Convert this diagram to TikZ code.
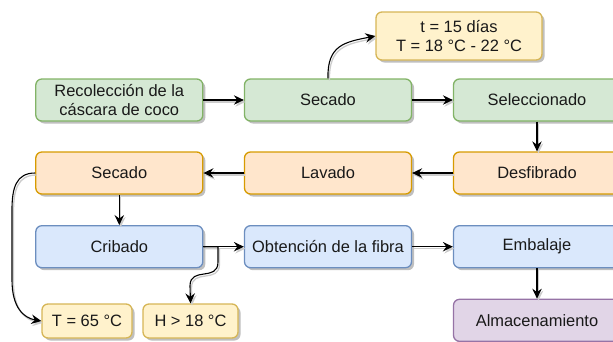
\documentclass[tikz,border=0pt]{standalone}
\usepackage{fontspec}
\setmainfont{Liberation Sans}
\usetikzlibrary{arrows.meta,shadows}
\definecolor{gfill}{HTML}{D5E8D4}\definecolor{gline}{HTML}{82B366}
\definecolor{ofill}{HTML}{FFE6CC}\definecolor{oline}{HTML}{D79B00}
\definecolor{bfill}{HTML}{DAE8FC}\definecolor{bline}{HTML}{6C8EBF}
\definecolor{yfill}{HTML}{FFF2CC}\definecolor{yline}{HTML}{D6B656}
\definecolor{pfill}{HTML}{E1D5E7}\definecolor{pline}{HTML}{9673A6}
\tikzset{
  box/.style={rectangle, rounded corners=6bp, line width=1.3bp, minimum width=167bp, minimum height=42bp, inner sep=0pt, align=center,
    font=\fontsize{16.5}{20}\selectfont, text=black!90,
    drop shadow={shadow xshift=2.5bp, shadow yshift=-2.5bp, opacity=0.25, fill=black}},
  gbox/.style={box, fill=gfill, draw=gline},
  obox/.style={box, fill=ofill, draw=oline},
  bbox/.style={box, fill=bfill, draw=bline},
  ybox/.style={box, fill=yfill, draw=yline},
  pbox/.style={box, fill=pfill, draw=pline},
  edge/.style={line width=1.1bp, -{Stealth[length=10bp,width=9.5bp,inset=3.5bp]},
    preaction={draw=black!20, line width=1.3bp, transform canvas={xshift=1.5bp,yshift=-2bp}}},
}
\begin{document}
\begin{tikzpicture}[x=1bp,y=-1bp]
\useasboundingbox (0,0) rectangle (613,341);
\node[gbox] (rec) at (119.3,100) {Recolección de la\\cáscara de coco};
\node[gbox] (sec1) at (328,100) {Secado};
\node[gbox] (sel) at (537,100) {Seleccionado};
\node[ybox, minimum width=166bp, minimum height=48bp] (top) at (459,36) {t = 15 días\\T = 18 °C - 22 °C};
\node[obox] (des) at (537,173) {Desfibrado};
\node[obox] (lav) at (328,173) {Lavado};
\node[obox] (sec2) at (119.3,173) {Secado};
\node[bbox] (cri) at (119.3,246.7) {Cribado};
\node[bbox] (obt) at (328,246.7) {Obtención de la fibra};
\node[bbox] (emb) at (537,246.7) {Embalaje};
\node[pbox] (alm) at (537,320.3) {Almacenamiento};
\node[ybox, minimum width=90bp, minimum height=34bp] (t65) at (87,321) {T = 65 °C};
\node[ybox, minimum width=95bp, minimum height=34bp] (h18) at (190.5,321) {H > 18 °C};

\draw[edge] (rec) -- (sec1);
\draw[edge] (sec1) -- (sel);
\draw[edge] (sel) -- (des);
\draw[edge] (des) -- (lav);
\draw[edge] (lav) -- (sec2);
\draw[edge] (sec2) -- (cri);
\draw[edge] (cri) -- (obt);
\draw[edge] (obt) -- (emb);
\draw[edge] (emb) -- (alm);
\draw[edge] (sec1.north) .. controls (327,45) and (345,42) .. (top.west);
\draw[edge] (sec2.west) .. controls (16,173) and (12,188) .. (12,210) -- (12,280) .. controls (12,308) and (24,318) .. (t65.west);
\draw[edge] (cri.east) -- (218,246.7) -- (218,262) .. controls (218,282) and (190,266) .. (190,286) -- (h18.north);
\end{tikzpicture}
\end{document}
